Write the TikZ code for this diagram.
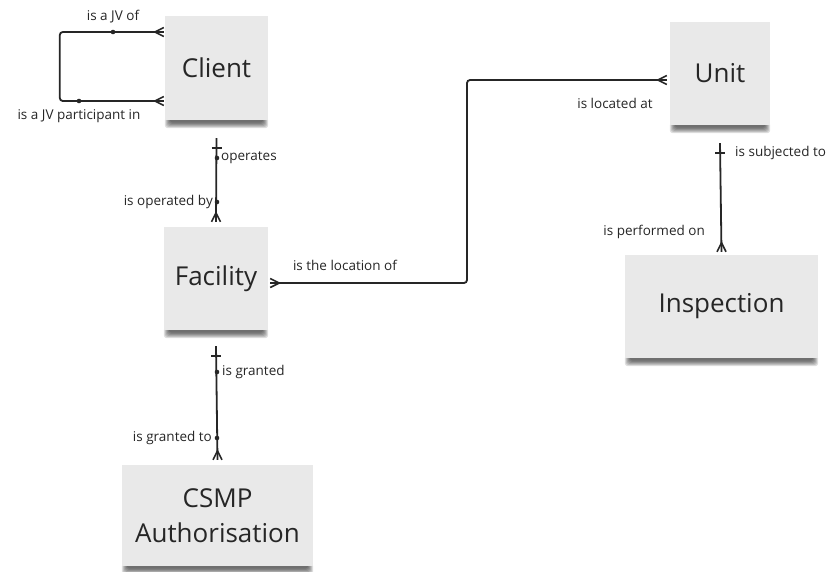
\documentclass[tikz,border=0pt]{standalone}
\usepackage{fontspec}
\setmainfont{Open Sans}
\usetikzlibrary{backgrounds}
\definecolor{notegray}{RGB}{233,233,233}
\definecolor{ink}{RGB}{38,38,38}

\begin{document}
\begin{tikzpicture}[x=1pt,y=-1pt]
\tikzstyle{note}=[fill=notegray, text=ink, align=center, inner sep=0pt,
  font=\fontsize{26}{35}\selectfont];
\tikzstyle{lbl}=[text=ink, inner sep=0pt, font=\fontsize{13.5}{16}\selectfont];
\tikzstyle{link}=[draw=ink, line width=1.8pt];
\tikzset{
  crow/.pic={\draw[ink, line width=1.6pt] (0,-4.5) -- (-9,0) -- (0,4.5);},
  onebar/.pic={\draw[ink, line width=1.6pt] (-5,0) -- (5,0);}
}
\useasboundingbox (0,0) rectangle (832,571);

% sticky notes
\node[note, minimum width=103pt, minimum height=104pt] (client) at (216.5,68) {Client};
\node[note, minimum width=104pt, minimum height=103pt] (facility) at (216,278.5) {Facility};
\node[note, minimum width=191pt, minimum height=101pt] (csmp) at (217.5,515.5) {CSMP\\Authorisation};
\node[note, minimum width=100pt, minimum height=103pt] (unit) at (720,73.5) {Unit};
\node[note, minimum width=193pt, minimum height=103pt] (inspection) at (721.5,306.5) {Inspection};

% shadows under the notes
\begin{scope}[on background layer]
\foreach \n in {client,facility,csmp,unit,inspection}
  \foreach \k [evaluate=\k as \dx using 4+2.2*\k, evaluate=\k as \dy using 8-1.1*\k] in {0,...,5}
    \fill[black, opacity=0.13, rounded corners=3pt] ([xshift=\dx pt, yshift=3pt]\n.south west) rectangle ([xshift=-\dx pt, yshift=-\dy pt]\n.south east);
\end{scope}

% client joint venture loop
\draw[link, rounded corners=3pt] ([xshift=-1pt,yshift=36pt]client.west) -- ++(-104,0) -- ++(0,69) -- ([xshift=-1pt,yshift=-33pt]client.west);
\pic at ([xshift=-1pt,yshift=36pt]client.west) {crow};
\pic at ([xshift=-1pt,yshift=-33pt]client.west) {crow};
\fill[ink] (113,32) circle (2.3pt);
\fill[ink] (79,101) circle (2.3pt);
\node[lbl] (jvof) at (113,17) {is a JV of};
\node[lbl] (jvin) at (79,116) {is a JV participant in};

% client - facility
\draw[link] ([yshift=-18pt]client.south) -- ([yshift=5pt]facility.north);
\pic at ([yshift=-28pt]client.south) {onebar};
\pic[rotate=-90] at ([yshift=5pt]facility.north) {crow};
\fill[ink] (217,158) circle (2.3pt);
\fill[ink] (217,202) circle (2.3pt);
\node[lbl, anchor=west] (operates) at (221,158) {operates};
\node[lbl, anchor=east] (operatedby) at (213,202) {is operated by};

% facility - unit
\draw[link, rounded corners=3pt] ([xshift=2pt,yshift=-4.5pt]facility.east) -| (467,180) |- ([xshift=-3pt,yshift=-6.5pt]unit.west);
\pic[rotate=180] at ([xshift=2pt,yshift=-4.5pt]facility.east) {crow};
\pic at ([xshift=-3pt,yshift=-6.5pt]unit.west) {crow};
\node[lbl] (locationof) at (345,265) {is the location of};
\node[lbl] (locatedat) at (615,103) {is located at};

% unit - inspection
\draw[link] ([yshift=-18pt]unit.south) -- ([yshift=3pt]inspection.north);
\pic at ([yshift=-28pt]unit.south) {onebar};
\pic[rotate=-90] at ([yshift=3pt]inspection.north) {crow};
\node[lbl, anchor=west] (subjected) at (735,153) {is subjected to};
\node[lbl, anchor=east] (performed) at (705,232) {is performed on};

% facility - authorisation
\draw[link] ([yshift=-16pt]facility.south) -- ([yshift=5pt]csmp.north);
\pic at ([yshift=-26pt]facility.south) {onebar};
\pic[rotate=-90] at ([yshift=5pt]csmp.north) {crow};
\fill[ink] (217,372) circle (2.3pt);
\fill[ink] (217,438) circle (2.3pt);
\node[lbl, anchor=west] (granted) at (222,372) {is granted};
\node[lbl, anchor=east] (grantedto) at (212,438) {is granted to};
\end{tikzpicture}
\end{document}
